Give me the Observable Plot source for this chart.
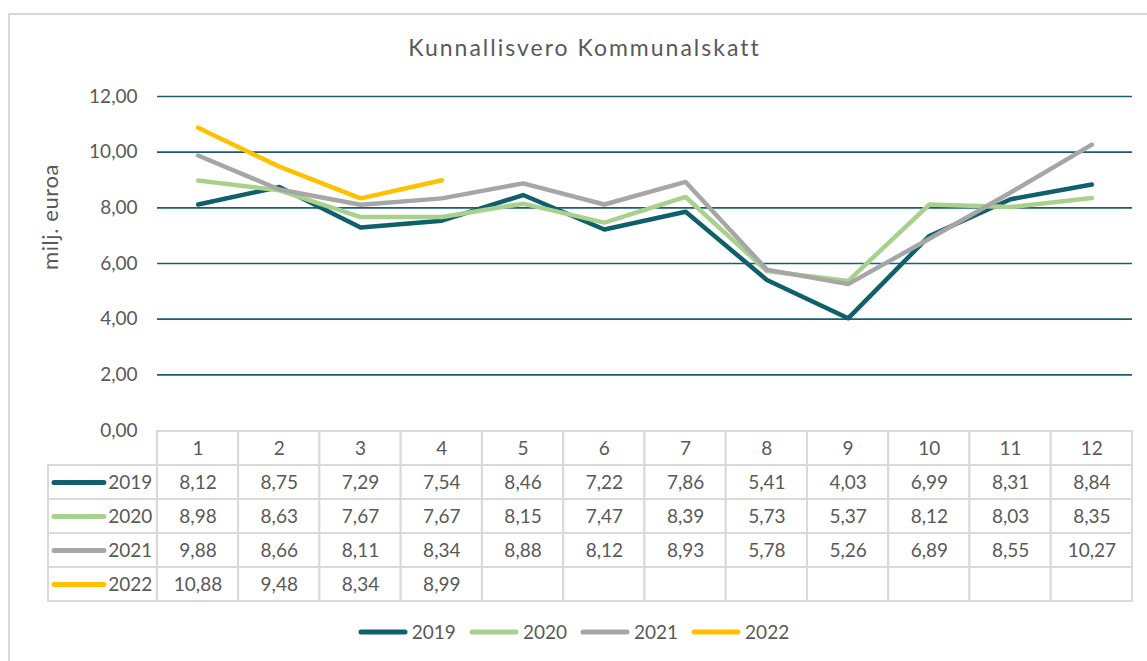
<!DOCTYPE html>
<html>
<head>
<meta charset="utf-8">
<script src="https://cdn.jsdelivr.net/npm/d3@7"></script>
<script src="https://cdn.jsdelivr.net/npm/@observablehq/plot@0.6"></script>
<style>
  html, body { margin: 0; padding: 0; background: #fff; }
  #root { position: relative; width: 1147px; height: 661px; overflow: hidden; background: #fff; font-family: Lato, "Open Sans", sans-serif; color: #595959; }
  #frame { position: absolute; left: 8px; top: 13px; width: 1200px; height: 700px; border-top: 2px solid #d9d9d9; border-left: 2px solid #d9d9d9; box-sizing: border-box; }
  #title { position: absolute; left: 11px; width: 1147px; top: 33px; text-align: center; font-size: 23px; letter-spacing: 2px; color: #595959; }
  #ylabel { position: absolute; left: 49px; top: 217px; transform: translate(-50%, -50%) rotate(-90deg); white-space: nowrap; font-size: 22px; letter-spacing: 0.6px; color: #595959; }
  #chart { position: absolute; left: 0; top: 0; }
  #table { position: absolute; left: 0; top: 430px; }
  #legend { position: absolute; left: 0; width: 1147px; top: 620px; display: flex; justify-content: center; gap: 13px; font-size: 19px; color: #595959; }
  #legend .item { display: flex; align-items: center; gap: 4px; }
  #legend svg { display: block; }
</style>
</head>
<body>
<div id="root">
  <div id="frame"></div>
  <div id="title"></div>
  <div id="ylabel"></div>
  <div id="chart"></div>
  <div id="table"></div>
  <div id="legend"></div>
</div>
<script>
// ---- data ----
const months = [1, 2, 3, 4, 5, 6, 7, 8, 9, 10, 11, 12];
const seriesNames = ["2019", "2020", "2021", "2022"];
const v2019 = [8.12, 8.75, 7.29, 7.54, 8.46, 7.22, 7.86, 5.41, 4.03, 6.99, 8.31, 8.84];
const v2020 = [8.98, 8.63, 7.67, 7.67, 8.15, 7.47, 8.39, 5.73, 5.37, 8.12, 8.03, 8.35];
const v2021 = [9.88, 8.66, 8.11, 8.34, 8.88, 8.12, 8.93, 5.78, 5.26, 6.89, 8.55, 10.27];
const v2022 = [10.88, 9.48, 8.34, 8.99, null, null, null, null, null, null, null, null];
const yTicks = [0, 2, 4, 6, 8, 10, 12];
const colors = ["#0f5f6d", "#a9d18e", "#a6a6a6", "#ffc000"];
const titleText = "Kunnallisvero Kommunalskatt";
const yLabel = "milj. euroa";

const values = {"2019": v2019, "2020": v2020, "2021": v2021, "2022": v2022};
const rows = [];
for (const s of seriesNames) {
  values[s].forEach((v, i) => rows.push({series: s, month: months[i], value: v}));
}
const fmt = v => v == null ? "" : v.toFixed(2).replace(".", ",");
const FONT = "Lato, 'Open Sans', sans-serif";
const TXT = "#595959";
const GRID = "#d9d9d9";

document.getElementById("title").textContent = titleText;
document.getElementById("ylabel").textContent = yLabel;

// ---- chart ----
const chart = Plot.plot({
  width: 1147,
  height: 440,
  marginLeft: 157,
  marginRight: 15,
  marginTop: 96,
  marginBottom: 10,
  style: {fontFamily: FONT, fontSize: "19px", color: TXT, background: "transparent", overflow: "visible"},
  x: {type: "linear", domain: [0.5, 12.5], axis: null},
  y: {domain: [0, 12], ticks: yTicks},
  color: {domain: seriesNames, range: colors},
  marks: [
    Plot.ruleY(yTicks.filter(d => d > 0), {stroke: "#1a5f6b", strokeWidth: 1.6}),
    Plot.axisY({ticks: yTicks, tickFormat: fmt, tickSize: 0, tickPadding: 20, fontSize: 19, fill: TXT, label: null}),
    Plot.line(rows.filter(d => d.value != null), {
      x: "month", y: "value", z: "series", stroke: "series",
      strokeWidth: 4.5, strokeLinecap: "round", strokeLinejoin: "round"
    })
  ]
});
document.getElementById("chart").appendChild(chart);

// ---- data table ----
const rowKeys = ["h", ...seriesNames];
const headerCells = months.map(m => ({row: "h", x1: m - 0.5, x2: m + 0.5, month: m, label: String(m)}));
const valueCells = rows.map(d => ({row: d.series, x1: d.month - 0.5, x2: d.month + 0.5, month: d.month, label: fmt(d.value)}));
const labelStart = -0.84;
const labelCells = seriesNames.map(s => ({row: s, x1: labelStart, x2: 0.5}));

const table = Plot.plot({
  width: 1147,
  height: 175,
  marginLeft: 48,
  marginRight: 15,
  marginTop: 0,
  marginBottom: 0,
  style: {fontFamily: FONT, fontSize: "19px", color: TXT, background: "transparent", overflow: "visible"},
  x: {type: "linear", domain: [labelStart, 12.5], axis: null},
  y: {type: "band", domain: rowKeys, range: [1, 171], paddingInner: 0, paddingOuter: 0, axis: null},
  color: {domain: seriesNames, range: colors},
  marks: [
    Plot.barX([...headerCells, ...valueCells, ...labelCells], {x1: "x1", x2: "x2", y: "row", fill: "white", stroke: GRID, strokeWidth: 2, inset: 0}),
    Plot.text([...headerCells, ...valueCells], {x: "month", y: "row", text: "label", fill: TXT, fontSize: 19}),
    Plot.ruleY(seriesNames, {y: d => d, x1: () => labelStart, x2: () => 0.5, stroke: d => d, strokeWidth: 5, strokeLinecap: "round", insetLeft: 6, insetRight: 53}),
    Plot.text(seriesNames, {x: () => 0.5, y: d => d, text: d => d, textAnchor: "end", dx: -5, fill: TXT, fontSize: 19})
  ]
});
document.getElementById("table").appendChild(table);

// ---- legend ----
const legend = document.getElementById("legend");
seriesNames.forEach((s, i) => {
  const item = document.createElement("div");
  item.className = "item";
  item.innerHTML = `<svg width="50" height="8"><line x1="3" y1="4" x2="47" y2="4" stroke="${colors[i]}" stroke-width="5" stroke-linecap="round"/></svg><span>${s}</span>`;
  legend.appendChild(item);
});
</script>
</body>
</html>
